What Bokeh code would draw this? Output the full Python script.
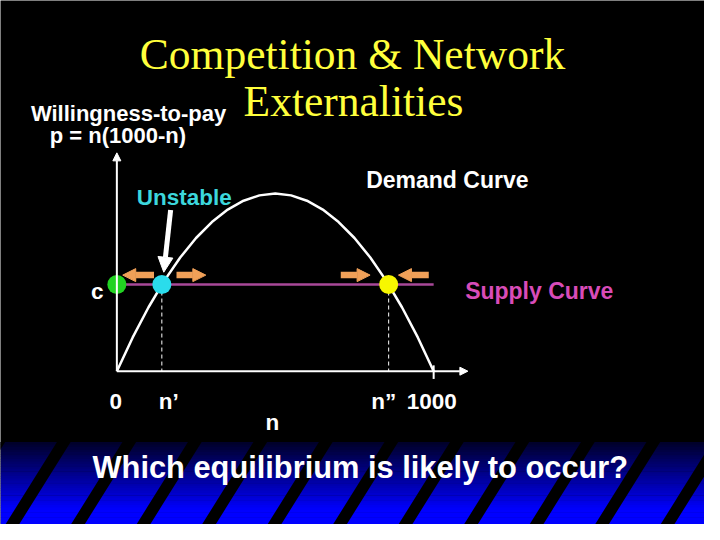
from bokeh.plotting import figure
from bokeh.models import Range1d, Arrow, NormalHead
from bokeh.embed import file_html
from bokeh.resources import INLINE
from bokeh.core.properties import value

# ---------------- data ----------------
n_vals = [0, 50, 100, 150, 200, 250, 300, 350, 400, 450, 500,
          550, 600, 650, 700, 750, 800, 850, 900, 950, 1000]
p_vals = [0, 47500, 90000, 127500, 160000, 187500, 210000, 227500, 240000, 247500, 250000,
          247500, 240000, 227500, 210000, 187500, 160000, 127500, 90000, 47500, 0]
supply_c = 122000
n_prime = 142
n_dbl = 858
n_max = 1000
tick_pos = [0, n_prime, n_dbl, n_max]
tick_text = ["0", "n\u2019", "n\u201d", "1000"]
eq_n = [0, n_prime, n_dbl]
eq_colors = ["#22d322", "#2adcec", "#f7f700"]

title_lines = ["Competition & Network", "Externalities"]
question = "Which equilibrium is likely to occur?"

# ---------------- layout (reference slide pixel space, scaled into the figure) ----------------
W, H = 704, 524
SLIDE_W, SLIDE_H = 720, 540
PX_PER_N = 0.324
PX_PER_P = 183 / 250000
OX, OY = 119, 382
FS = W / SLIDE_W  # font scale


def X(px):
    return (px - OX) / PX_PER_N


def Y(py):
    return (OY - py) / PX_PER_P


def fs(v):
    return "%.1fpx" % (v * FS)


p = figure(width=W, height=H, x_range=Range1d(X(0), X(SLIDE_W)), y_range=Range1d(Y(SLIDE_H), Y(0)),
           output_backend="svg", toolbar_location=None, min_border=0,
           x_axis_type=None, y_axis_type=None,
           background_fill_color="black", border_fill_color="black", outline_line_color=None)
p.grid.visible = False

SANS = value("Liberation Sans")
SERIF = value("Liberation Serif")

# ---------------- bottom blue gradient with diagonal stripes ----------------
g_top, g_full, g_bot = 455, 525, 540
steps = 34
lefts, rights, tops, bots, cols = [], [], [], [], []
for i in range(steps):
    y0 = g_top + (g_bot - g_top) * i / steps
    y1 = g_top + (g_bot - g_top) * (i + 1) / steps
    t = min(1.0, (0.5 * (y0 + y1) - g_top) / (g_full - g_top))
    b = int(40 + (255 - 40) * t)
    lefts.append(X(0)); rights.append(X(720)); tops.append(Y(y0)); bots.append(Y(y1 + 0.5))
    cols.append("#%02x%02x%02x" % (0, 0, b))
p.quad(left=lefts, right=rights, top=tops, bottom=bots, fill_color=cols, line_color=None)

slope = 0.62
period = 67
sw = 14
xs, ys = [], []
for k in range(-1, 12):
    xb = 5 + period * k
    xt = xb + (g_bot - g_top) * slope
    xs.append([X(xb), X(xb + sw), X(xt + sw), X(xt)])
    ys.append([Y(g_bot), Y(g_bot), Y(g_top), Y(g_top)])
p.patches(xs, ys, fill_color="black", line_color=None)

# ---------------- chart ----------------
p.line(n_vals, p_vals, line_color="white", line_width=2.5)
p.line([0, n_max], [supply_c, supply_c], line_color="#a84898", line_width=2.5)
p.segment(x0=[n_prime, n_dbl], y0=[supply_c, supply_c], x1=[n_prime, n_dbl], y1=[0, 0],
          line_color="white", line_width=1, line_dash="4 3")
p.segment(x0=[n_max], y0=[Y(376)], x1=[n_max], y1=[Y(390)], line_color="white", line_width=2)

# axes as arrows
p.add_layout(Arrow(end=NormalHead(size=8, fill_color="white", line_color="white"),
                   x_start=0, y_start=0, x_end=0, y_end=Y(157), line_color="white", line_width=2))
p.add_layout(Arrow(end=NormalHead(size=8, fill_color="white", line_color="white"),
                   x_start=0, y_start=0, x_end=X(478), y_end=0, line_color="white", line_width=2))

p.scatter(eq_n, [supply_c] * 3, size=19, fill_color=eq_colors, line_color=None)

# orange adjustment arrows
ORANGE = "#f0a058"
ay = Y(283)
for x0, x1 in [(157, 125), (180, 210), (348, 378), (438, 407)]:
    p.add_layout(Arrow(end=NormalHead(size=13, fill_color=ORANGE, line_color=ORANGE),
                       x_start=X(x0), y_start=ay, x_end=X(x1), y_end=ay,
                       line_color=ORANGE, line_width=6.5))

# unstable pointer
p.add_layout(Arrow(end=NormalHead(size=15, fill_color="white", line_color="white"),
                   x_start=X(174), y_start=Y(216), x_end=X(167), y_end=Y(280),
                   line_color="white", line_width=5))

# ---------------- texts ----------------
p.text(x=[X(360), X(361)], y=[Y(55), Y(104)], text=title_lines, text_font=SERIF,
       text_font_size=fs(44.5), text_color="#ffff3c", text_align="center", text_baseline="alphabetic")

p.text(x=[X(131), X(120)], y=[Y(116), Y(139)], text=["Willingness-to-pay", "p = n(1000-n)"],
       text_font=SANS, text_font_style="bold", text_font_size=fs(22.5), text_color="white",
       text_align="center", text_baseline="alphabetic")

p.text(x=[X(188)], y=[Y(203)], text=["Unstable"], text_font=SANS, text_font_style="bold",
       text_font_size=fs(23), text_color="#3cd7dc", text_align="center", text_baseline="alphabetic")
p.text(x=[X(457)], y=[Y(185)], text=["Demand Curve"], text_font=SANS, text_font_style="bold",
       text_font_size=fs(23.5), text_color="white", text_align="center", text_baseline="alphabetic")
p.text(x=[X(551)], y=[Y(299)], text=["Supply Curve"], text_font=SANS, text_font_style="bold",
       text_font_size=fs(23.5), text_color="#d84cb8", text_align="center", text_baseline="alphabetic")
p.text(x=[X(99)], y=[Y(300)], text=["c"], text_font=SANS, text_font_style="bold",
       text_font_size=fs(23), text_color="white", text_align="center", text_baseline="alphabetic")

p.text(x=tick_pos, y=[Y(413)] * 4, text=tick_text, x_offset=[-1, 7, -5, -2], text_font=SANS,
       text_font_style="bold", text_font_size=fs(23), text_color="white", text_align="center",
       text_baseline="alphabetic")
p.text(x=[X(278)], y=[Y(435)], text=["n"], text_font=SANS, text_font_style="bold",
       text_font_size=fs(23), text_color="white", text_align="center", text_baseline="alphabetic")

p.text(x=[X(368)], y=[Y(481)], text=[question], text_font=SANS, text_font_style="bold",
       text_font_size=fs(31.5), text_color="white", text_align="center", text_baseline="alphabetic")

open("out.html", "w").write(file_html(p, INLINE))
